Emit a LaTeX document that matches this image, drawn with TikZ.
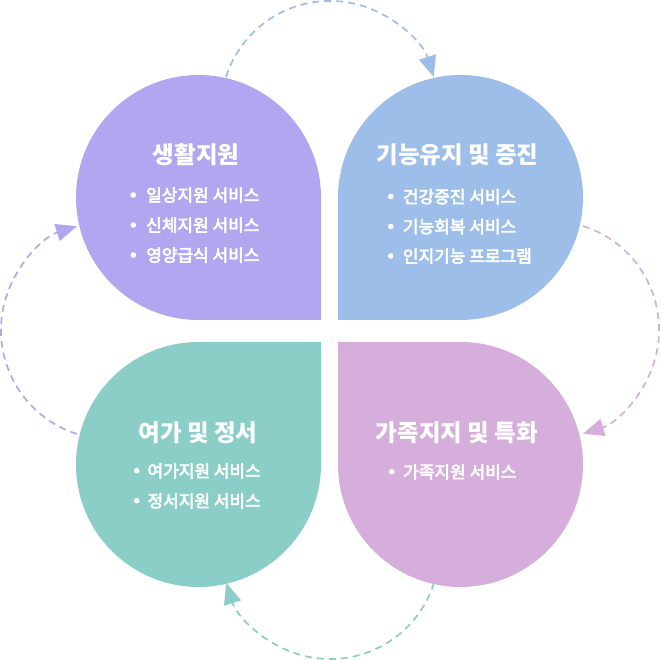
\documentclass[tikz,border=0pt]{standalone}
\usepackage{fontspec}
\setmainfont{Noto Sans CJK KR}
\newfontfamily\itemfont{Noto Sans CJK KR}[FakeBold=3.5]
\usetikzlibrary{arrows.meta}
\definecolor{cpurple}{HTML}{B1A7F1}
\definecolor{cblue}{HTML}{9DBEE8}
\definecolor{cteal}{HTML}{8ACEC7}
\definecolor{cpink}{HTML}{D5AEDB}
\begin{document}
\begin{tikzpicture}[x=1pt,y=1pt,
  flow/.style={line width=1.7pt, dash pattern=on 7pt off 5pt, -{Triangle[length=21pt,width=17.5pt]}},
  ttl/.style={font=\fontsize{23.5}{28}\selectfont\bfseries, text=white, inner sep=0pt, anchor=base},
  itm/.style={font=\itemfont\fontsize{17}{20}\selectfont, text=white, inner sep=0pt, anchor=base west},
  dot/.style={fill=white},
]
\useasboundingbox (0,0) rectangle (660,660);
% connectors
\coordinate (s1) at (226,583);
\coordinate (s2) at (583,434);
\coordinate (s3) at (434,77);
\coordinate (s4) at (77,226);
\draw[flow, cblue] (s1) arc[start angle=162.4, end angle=17.6, radius=109];
\draw[flow, cpink] (s2) arc[start angle=72.4, end angle=-72.4, radius=109];
\draw[flow, cteal] (s3) arc[start angle=-17.6, end angle=-162.4, radius=109];
\draw[flow, cpurple] (s4) arc[start angle=252.4, end angle=107.6, radius=109];
% petals
\fill[cpurple] (321,340) -- (321,462.5) arc[start angle=0, end angle=270, radius=122.5] -- cycle;
\fill[cblue] (338,340) -- (460.5,340) arc[start angle=-90, end angle=180, radius=122.5] -- cycle;
\fill[cteal] (321,318) -- (198.5,318) arc[start angle=90, end angle=360, radius=122.5] -- cycle;
\fill[cpink] (338,318) -- (338,195.5) arc[start angle=180, end angle=450, radius=122.5] -- cycle;
% titles
\node[ttl] (t1) at (196,496.1) {생활지원};
\node[ttl] (t2) at (457.5,496.1) {기능유지 및 증진};
\node[ttl] (t3) at (198,218.6) {여가 및 정서};
\node[ttl] (t4) at (457,218.6) {가족지지 및 특화};
% items
\node[itm] (a1) at (146,458.5) {일상지원 서비스};
\node[itm] (a2) at (146,428.5) {신체지원 서비스};
\node[itm] (a3) at (146,398.5) {영양급식 서비스};
\fill[dot] (133.3,465) circle (2.8);
\fill[dot] (133.3,435) circle (2.8);
\fill[dot] (133.3,405) circle (2.8);
\node[itm] (b1) at (402.7,457) {건강증진 서비스};
\node[itm] (b2) at (402.7,427) {기능회복 서비스};
\node[itm] (b3) at (402.7,397.5) {인지기능 프로그램};
\fill[dot] (390.7,463.5) circle (2.8);
\fill[dot] (390.7,433.5) circle (2.8);
\fill[dot] (390.7,404) circle (2.8);
\node[itm] (c1) at (147.3,182.8) {여가지원 서비스};
\node[itm] (c2) at (147.3,152.8) {정서지원 서비스};
\fill[dot] (136.7,189.3) circle (2.8);
\fill[dot] (136.7,159.3) circle (2.8);
\node[itm] (d1) at (403,181.8) {가족지원 서비스};
\fill[dot] (391.7,188.3) circle (2.8);
\end{tikzpicture}
\end{document}
